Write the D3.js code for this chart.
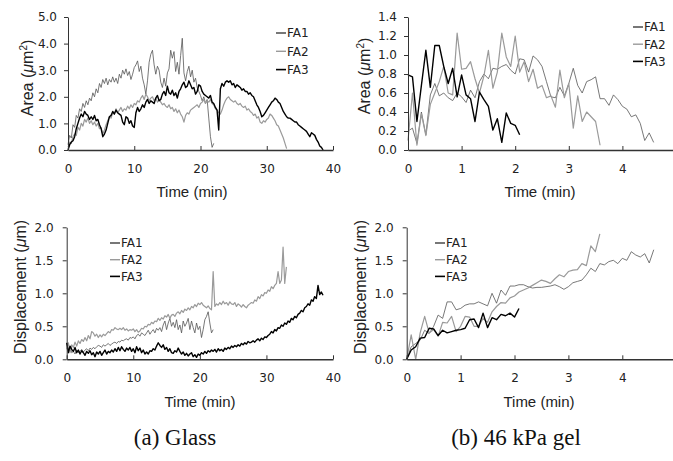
<!DOCTYPE html>
<html>
<head>
<meta charset="utf-8">
<script src="https://cdn.jsdelivr.net/npm/d3@7"></script>
<style>
body { margin: 0; background: #fff; }
svg { display: block; }
.tick text { font-family: "DejaVu Sans", sans-serif; font-size: 12px; fill: #222; }
.domain, .tick line { stroke: #333; }
.title { font-family: "Liberation Sans", Arial, sans-serif; fill: #222; }
.legend text { font-family: "DejaVu Sans", sans-serif; font-size: 12px; fill: #222; }
.caption { font-family: "Liberation Serif", "Times New Roman", serif; font-size: 23px; fill: #111; }
</style>
</head>
<body>
<svg id="chart" width="673" height="461"></svg>
<script>
// sampling interval of the recordings, in minutes
var glassStep = 0.25;
var gelStep = 1 / 12;

var seriesNames = ["FA1", "FA2", "FA3"];

// (a) glass, area (um^2)
var glassAreaFA1 = [
  0.20, 0.55, 0.45, 0.95, 0.85, 1.30, 1.20, 1.55,
  1.45, 1.75, 1.60, 1.85, 1.70, 1.95, 1.85, 2.15,
  2.00, 2.30, 2.15, 2.50, 2.35, 2.65, 2.50, 2.70,
  2.45, 2.65, 2.55, 2.75, 2.55, 2.70, 2.50, 2.85,
  2.70, 3.00, 2.85, 3.05, 2.80, 2.95, 2.65, 2.85,
  3.10, 3.20, 3.35, 2.95, 3.15, 2.70, 2.45, 2.10,
  2.60, 3.30, 3.60, 3.75, 3.20, 2.85, 3.15, 3.00,
  2.55, 2.35, 2.70, 2.40, 2.90, 3.05, 3.75, 3.45,
  3.70, 2.95, 3.30, 2.85, 3.55, 4.20, 2.90, 2.60,
  2.95, 3.15, 2.75, 3.00, 2.55, 2.70, 2.35, 2.20,
  2.05, 1.85, 2.00, 1.75, 1.90, 1.20, 0.50, 0.10,
  0.25
];
var glassAreaFA2 = [
  0.10, 0.30, 0.25, 0.50, 0.60, 0.55, 0.85, 0.75,
  1.00, 0.90, 1.15, 1.05, 1.20, 1.00, 1.10, 0.95,
  1.05, 0.90, 1.00, 0.80, 0.85, 0.60, 0.75, 0.95,
  1.10, 1.25, 1.20, 1.40, 1.35, 1.55, 1.40, 1.50,
  1.60, 1.45, 1.55, 1.50, 1.65, 1.55, 1.70, 1.60,
  1.75, 1.70, 1.85, 1.80, 1.95, 2.05, 1.90, 2.10,
  2.00, 1.85, 1.95, 2.00, 1.85, 1.95, 1.80, 1.90,
  1.80, 1.70, 1.75, 1.65, 1.60, 1.70, 1.55, 1.60,
  1.45, 1.55, 1.40, 1.50, 1.35, 1.25, 1.05, 1.30,
  1.40, 1.35, 1.50, 1.55, 1.60, 1.65, 1.70, 1.60,
  1.75, 1.80, 1.90, 1.75, 1.85, 1.80, 1.90, 1.75,
  1.70, 1.55, 1.50, 1.40, 1.35, 1.50, 1.70, 1.85,
  1.95, 2.00, 1.90, 1.85, 1.80, 1.85, 1.75, 1.70,
  1.75, 1.65, 1.60, 1.65, 1.50, 1.55, 1.45, 1.40,
  1.30, 1.35, 1.20, 1.25, 1.05, 1.00, 1.10, 1.05,
  1.15, 1.20, 1.35, 1.30, 1.20, 1.10, 0.95, 0.90,
  0.75, 0.60, 0.45, 0.25, 0.05
];
var glassAreaFA3 = [
  0.00, 0.20, 0.30, 0.35, 0.50, 0.80, 1.00, 1.20,
  1.35, 1.25, 1.45, 1.35, 1.30, 1.15, 1.25, 1.15,
  1.30, 1.10, 1.15, 0.95, 0.80, 0.50, 0.60, 0.75,
  1.00, 1.25, 1.30, 1.45, 1.35, 1.50, 1.40, 1.35,
  1.30, 1.05, 0.95, 1.25, 1.20, 1.00, 1.10, 0.90,
  0.85, 1.40, 1.60, 1.45, 1.55, 1.70, 1.60, 1.80,
  1.90, 1.75, 1.85, 1.80, 1.75, 1.95, 2.05, 1.85,
  1.90, 2.10, 2.20, 2.05, 2.40, 2.15, 2.10, 2.25,
  2.05, 2.15, 1.95, 2.20, 2.30, 2.45, 2.55, 2.35,
  2.40, 2.60, 2.45, 2.30, 2.35, 2.10, 2.20, 2.45,
  2.40, 2.20, 2.10, 2.05, 2.00, 1.95, 2.05, 1.80,
  1.75, 1.60, 1.50, 0.75, 2.30, 2.50, 2.40, 2.55,
  2.60, 2.55, 2.60, 2.45, 2.50, 2.35, 2.45, 2.40,
  2.35, 2.25, 2.30, 2.20, 2.20, 2.10, 2.15, 2.05,
  2.00, 1.85, 1.70, 1.60, 1.45, 1.25, 1.30, 1.40,
  1.50, 1.60, 1.70, 1.80, 1.85, 1.95, 1.90, 1.80,
  1.75, 1.60, 1.45, 1.35, 1.25, 1.20, 1.20, 1.15,
  1.10, 1.05, 1.05, 0.95, 0.90, 0.85, 0.80, 0.75,
  0.70, 0.60, 0.50, 0.65, 0.60, 0.55, 0.40, 0.30,
  0.15, 0.10, 0.00
];

// (a) glass, displacement (um)
var glassDispFA1 = [
  0.25, 0.15, 0.20, 0.10, 0.12, 0.08, 0.14, 0.10,
  0.12, 0.15, 0.11, 0.14, 0.16, 0.13, 0.17, 0.15,
  0.18, 0.16, 0.19, 0.21, 0.20, 0.18, 0.22, 0.20,
  0.22, 0.24, 0.21, 0.23, 0.25, 0.26, 0.24, 0.27,
  0.26, 0.29, 0.28, 0.30, 0.31, 0.29, 0.33, 0.32,
  0.34, 0.31, 0.36, 0.38, 0.35, 0.40, 0.38, 0.36,
  0.40, 0.44, 0.38, 0.42, 0.45, 0.40, 0.47, 0.44,
  0.48, 0.42, 0.52, 0.58, 0.45, 0.55, 0.62, 0.50,
  0.56, 0.48, 0.60, 0.45, 0.52, 0.40, 0.58, 0.50,
  0.55, 0.62, 0.45, 0.58, 0.48, 0.40, 0.55, 0.45,
  0.50, 0.33, 0.45, 0.60, 0.65, 0.72, 0.55, 0.40,
  0.45
];
var glassDispFA2 = [
  0.15, 0.25, 0.10, 0.22, 0.18, 0.26, 0.20, 0.28,
  0.24, 0.30, 0.27, 0.33, 0.28, 0.36, 0.31, 0.42,
  0.40, 0.35, 0.38, 0.33, 0.37, 0.34, 0.38, 0.36,
  0.39, 0.42, 0.40, 0.45, 0.44, 0.48, 0.46, 0.45,
  0.47, 0.45, 0.48, 0.44, 0.46, 0.43, 0.45, 0.44,
  0.46, 0.42, 0.45, 0.41, 0.43, 0.47, 0.46, 0.50,
  0.49, 0.53, 0.52, 0.56, 0.54, 0.58, 0.57, 0.62,
  0.59, 0.63, 0.61, 0.66, 0.64, 0.68, 0.62, 0.67,
  0.68, 0.65, 0.70, 0.72, 0.69, 0.74, 0.71, 0.76,
  0.74, 0.78, 0.75, 0.80, 0.78, 0.83, 0.80, 0.85,
  0.83, 0.86, 0.82, 0.80, 0.78, 0.81, 0.77, 0.75,
  1.33, 0.80, 0.84, 0.82, 0.86, 0.83, 0.88, 0.84,
  0.86, 0.82, 0.87, 0.84, 0.83, 0.86, 0.80, 0.84,
  0.82, 0.79, 0.83, 0.80, 0.78, 0.82, 0.84, 0.86,
  0.85, 0.90, 0.88, 0.95, 0.92, 0.98, 0.96, 1.01,
  1.00, 1.05, 1.03, 1.10, 1.07, 1.12, 1.15, 1.33,
  1.15, 1.20, 1.70, 1.15, 1.40
];
var glassDispFA3 = [
  0.25, 0.10, 0.20, 0.15, 0.12, 0.18, 0.10, 0.14,
  0.08, 0.13, 0.10, 0.06, 0.12, 0.09, 0.13, 0.07,
  0.10, 0.04, 0.11, 0.08, 0.12, 0.06, 0.10, 0.14,
  0.08, 0.12, 0.10, 0.14, 0.11, 0.16, 0.12, 0.18,
  0.13, 0.19, 0.15, 0.12, 0.17, 0.14, 0.18, 0.12,
  0.16, 0.10, 0.19, 0.13, 0.17, 0.10, 0.14, 0.08,
  0.11, 0.08, 0.13, 0.12, 0.16, 0.14, 0.20, 0.25,
  0.21, 0.18, 0.22, 0.15, 0.18, 0.12, 0.16, 0.10,
  0.09, 0.13, 0.11, 0.17, 0.12, 0.08, 0.11, 0.06,
  0.09, 0.05, 0.08, 0.10, 0.04, 0.07, 0.03, 0.08,
  0.06, 0.10, 0.08, 0.12, 0.09, 0.13, 0.11, 0.14,
  0.12, 0.15, 0.11, 0.16, 0.13, 0.15, 0.12, 0.17,
  0.15, 0.18, 0.16, 0.20, 0.18, 0.21, 0.19, 0.22,
  0.20, 0.24, 0.22, 0.25, 0.23, 0.27, 0.25, 0.26,
  0.28, 0.26, 0.29, 0.31, 0.28, 0.32, 0.30, 0.34,
  0.33, 0.36, 0.38, 0.42, 0.40, 0.45, 0.43, 0.48,
  0.47, 0.52, 0.50, 0.55, 0.53, 0.58, 0.56, 0.62,
  0.60, 0.65, 0.63, 0.68, 0.70, 0.74, 0.72, 0.78,
  0.80, 0.84, 0.82, 0.90, 0.88, 0.95, 0.92, 1.12,
  0.98, 1.02, 0.97
];

// (b) 46 kPa gel, area (um^2)
var gelAreaFA1 = [
  0.20, 0.23, 0.07, 0.40, 0.16, 0.58, 0.70, 0.57, 0.60, 0.55,
  0.52, 0.60, 0.56, 0.50, 0.63, 0.55, 0.72, 0.80, 0.75, 0.86,
  0.85, 0.88, 0.90, 0.84, 0.80, 0.96, 0.95, 0.82, 0.99, 0.95,
  0.88, 0.72, 0.56, 0.55, 0.66, 0.57, 0.70, 0.86, 0.68, 0.60,
  0.72, 0.74, 0.77, 0.54, 0.54, 0.47, 0.58, 0.53, 0.46, 0.43,
  0.35, 0.37, 0.28, 0.10, 0.18, 0.08
];
var gelAreaFA2 = [
  0.10, 0.60, 0.05, 0.38, 0.15, 0.48, 0.60, 0.72, 0.88, 0.60,
  0.58, 1.23, 0.85, 0.86, 0.93, 0.75, 0.60, 0.78, 1.05, 0.65,
  0.82, 1.23, 0.98, 0.88, 1.20, 0.82, 0.93, 0.72, 0.85, 0.65,
  0.68, 0.55, 0.57, 0.45, 0.84, 0.55, 0.70, 0.23, 0.57, 0.30,
  0.40, 0.35, 0.30, 0.05
];
var gelAreaFA3 = [
  0.79, 0.77, 0.30, 0.68, 1.05, 0.66, 1.10, 1.10, 0.88, 0.70,
  0.86, 0.56, 0.79, 0.58, 0.54, 0.30, 0.61, 0.53, 0.46, 0.21,
  0.33, 0.08, 0.39, 0.28, 0.26, 0.16
];

// (b) 46 kPa gel, displacement (um)
var gelDispFA1 = [
  0.00, 0.19, 0.24, 0.29, 0.44, 0.39, 0.50, 0.67, 0.62, 0.87,
  0.87, 0.75, 0.77, 0.82, 0.84, 0.84, 0.87, 0.84, 0.81, 1.00,
  0.85, 1.05, 0.97, 1.11, 1.11, 1.13, 1.13, 1.10, 1.08, 1.09,
  1.09, 1.10, 1.11, 1.13, 1.10, 1.06, 1.10, 1.16, 1.18, 1.20,
  1.28, 1.38, 1.33, 1.45, 1.43, 1.48, 1.50, 1.45, 1.53, 1.50,
  1.63, 1.58, 1.55, 1.60, 1.46, 1.66
];
var gelDispFA2 = [
  0.00, 0.37, 0.00, 0.40, 0.65, 0.40, 0.45, 0.35, 0.56, 0.55,
  0.65, 0.42, 0.50, 0.65, 0.64, 0.50, 0.50, 0.62, 0.56, 0.72,
  0.80, 0.86, 0.85, 0.93, 0.96, 1.02, 1.05, 1.08, 1.12, 1.16,
  1.20, 1.18, 1.15, 1.22, 1.28, 1.25, 1.33, 1.35, 1.36, 1.45,
  1.42, 1.72, 1.63, 1.90
];
var gelDispFA3 = [
  0.00, 0.14, 0.19, 0.32, 0.33, 0.47, 0.46, 0.36, 0.44, 0.40,
  0.42, 0.44, 0.45, 0.47, 0.60, 0.61, 0.48, 0.70, 0.48, 0.63,
  0.60, 0.68, 0.66, 0.70, 0.64, 0.77
];

var glassTicks = [0, 10, 20, 30, 40];
var gelTicks = [0, 1, 2, 3, 4];
var areaTicksGlass = [0, 1, 2, 3, 4, 5];
var areaTicksGel = [0, 0.2, 0.4, 0.6, 0.8, 1.0, 1.2, 1.4];
var dispTicks = [0, 0.5, 1.0, 1.5, 2.0];

// line look per series: FA1 thin dark, FA2 grey, FA3 black
var lineStyle = [
  { stroke: "#555", width: 0.8 },
  { stroke: "#9a9a9a", width: 1.2 },
  { stroke: "#000", width: 1.4 }
];

var svg = d3.select("#chart");

function drawPanel(p) {
  var x = d3.scaleLinear().domain([0, p.xMax]).range([p.left, p.right]);
  var y = d3.scaleLinear().domain([0, p.yMax]).range([p.bottom, p.top]);
  var g = svg.append("g");

  var line = d3.line()
    .x(function(d) { return x(d[0]); })
    .y(function(d) { return y(d[1]); });

  p.series.forEach(function(vals, k) {
    var pts = vals.map(function(v, i) { return [i * p.step, v]; });
    g.append("path")
      .attr("d", line(pts))
      .attr("fill", "none")
      .attr("stroke", lineStyle[k].stroke)
      .attr("stroke-width", lineStyle[k].width)
      .attr("stroke-linejoin", "round");
  });

  var xa = g.append("g")
    .attr("transform", "translate(0," + p.bottom + ")")
    .call(d3.axisBottom(x).tickValues(p.xTicks).tickSize(-4).tickSizeOuter(0)
      .tickPadding(14).tickFormat(d3.format("d")));
  xa.select(".domain").attr("stroke-width", 1.6);

  g.append("g")
    .attr("transform", "translate(" + p.left + ",0)")
    .call(d3.axisLeft(y).tickValues(p.yTicks).tickSize(4).tickSizeOuter(0)
      .tickPadding(p.yPad).tickFormat(d3.format(".1f")));

  // x title
  g.append("text").attr("class", "title")
    .attr("x", p.xTitle[0]).attr("y", p.xTitle[1])
    .attr("text-anchor", "middle").style("font-size", "15px")
    .text("Time (min)");

  // y title
  var yt = g.append("text").attr("class", "title")
    .attr("transform", "translate(" + p.yTitle[0] + "," + p.yTitle[1] + ") rotate(-90)")
    .attr("text-anchor", "middle").attr("dy", "0.35em").style("font-size", "16px");
  yt.append("tspan").text(p.yLabel + " (");
  yt.append("tspan").style("font-style", "italic").text("\u03bc");
  yt.append("tspan").text("m");
  if (p.squared) {
    yt.append("tspan").attr("dy", -6).style("font-size", "10px").text("2");
    yt.append("tspan").attr("dy", 6).text(")");
  } else {
    yt.append("tspan").text(")");
  }

  // legend
  var lg = g.append("g").attr("class", "legend");
  seriesNames.forEach(function(name, k) {
    var ly = p.legend[1] + k * p.legend[2];
    lg.append("line")
      .attr("x1", p.legend[0]).attr("x2", p.legend[0] + 10)
      .attr("y1", ly).attr("y2", ly)
      .attr("stroke", lineStyle[k].stroke)
      .attr("stroke-width", k == 1 ? 1.4 : 1.6);
    lg.append("text")
      .attr("x", p.legend[0] + 11).attr("y", ly).attr("dy", "0.36em")
      .text(name);
  });
}

var panels = [
  { series: [glassAreaFA1, glassAreaFA2, glassAreaFA3], step: glassStep,
    xMax: 40, xTicks: glassTicks, yMax: 5, yTicks: areaTicksGlass,
    left: 68, right: 333, top: 17, bottom: 150, yPad: 7,
    xTitle: [192, 197], yTitle: [27, 78], yLabel: "Area", squared: true,
    legend: [276, 33, 18.3] },
  { series: [gelAreaFA1, gelAreaFA2, gelAreaFA3], step: gelStep,
    xMax: 5, xTicks: gelTicks, yMax: 1.4, yTicks: areaTicksGel,
    left: 408, right: 676, top: 17, bottom: 150, yPad: 7,
    xTitle: [540, 197], yTitle: [364, 76], yLabel: "Area", squared: true,
    legend: [633, 27, 17.2] },
  { series: [glassDispFA1, glassDispFA2, glassDispFA3], step: glassStep,
    xMax: 40, xTicks: glassTicks, yMax: 2, yTicks: dispTicks,
    left: 66.7, right: 333, top: 227.3, bottom: 359.3, yPad: 9,
    xTitle: [200, 407], yTitle: [20, 287], yLabel: "Displacement", squared: false,
    legend: [110, 243, 16.7] },
  { series: [gelDispFA1, gelDispFA2, gelDispFA3], step: gelStep,
    xMax: 5, xTicks: gelTicks, yMax: 2, yTicks: dispTicks,
    left: 406.7, right: 676.2, top: 227.3, bottom: 359.3, yPad: 9,
    xTitle: [539, 407], yTitle: [360, 287], yLabel: "Displacement", squared: false,
    legend: [435, 243, 16.7] }
];

panels.forEach(drawPanel);

svg.append("text").attr("class", "caption")
  .attr("x", 175).attr("y", 445).attr("text-anchor", "middle").text("(a) Glass");
svg.append("text").attr("class", "caption")
  .attr("x", 516).attr("y", 445).attr("text-anchor", "middle").text("(b) 46 kPa gel");
</script>
</body>
</html>
